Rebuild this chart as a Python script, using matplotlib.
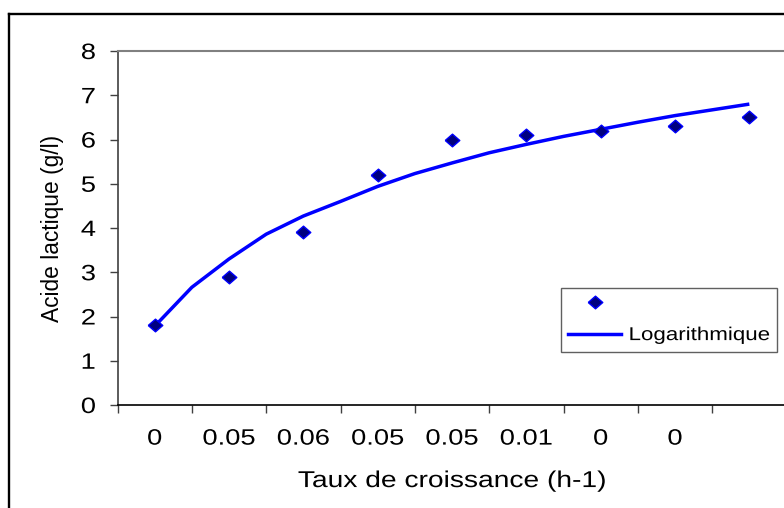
import matplotlib
matplotlib.use("Agg")
import matplotlib.pyplot as plt
from matplotlib.lines import Line2D
from matplotlib.patheffects import AbstractPathEffect
from matplotlib.transforms import Affine2D

plt.rcParams['font.family'] = ['Liberation Sans', 'DejaVu Sans']

# Data
categories = [1, 2, 3, 4, 5, 6, 7, 8, 9]
tick_labels = ["0", "0.05", "0.06", "0.05", "0.05", "0.01", "0", "0", ""]
acide = [1.8, 2.9, 3.9, 5.2, 6.0, 6.1, 6.2, 6.3, 6.5]
trend_x = [1, 1.5, 2, 2.5, 3, 3.5, 4, 4.5, 5, 5.5, 6, 6.5, 7, 7.5, 8, 8.5, 9]
trend_y = [1.78, 2.66, 3.30, 3.86, 4.27, 4.60, 4.94, 5.23, 5.47, 5.70, 5.89, 6.07, 6.23, 6.39, 6.54, 6.67, 6.80]


class Stretch(AbstractPathEffect):
    """Widen text glyphs horizontally (the reference uses wide lettering)."""
    def __init__(self, sx=1.23, anchor='center'):
        super().__init__()
        self.sx = sx
        self.anchor = anchor

    def draw_path(self, renderer, gc, tpath, affine, rgbFace=None):
        ext = tpath.get_extents()
        c = (ext.x0 + ext.x1) / 2 if self.anchor == 'center' else 0.0
        t = Affine2D().translate(-c, 0).scale(self.sx, 1).translate(c, 0)
        renderer.draw_path(gc, tpath, t + affine, rgbFace)


W, H = 784, 508
fig = plt.figure(figsize=(W / 100, H / 100), dpi=100)
ax = fig.add_axes([117.5 / W, (H - 405) / H, 669 / W, (405 - 51) / H])

diamond = [(-1.15, 0), (0, 1), (1.15, 0), (0, -1), (-1.15, 0)]

ax.plot(trend_x, trend_y, color='#0000FF', lw=2.5, solid_capstyle='butt', zorder=2)
ax.plot(categories, acide, linestyle='none', marker=diamond, markersize=10.5,
        markerfacecolor='#000080', markeredgecolor='#0000FF', markeredgewidth=1.0, zorder=3)

ax.set_xlim(0.5, 9.5)
ax.set_ylim(0, 8)
ax.set_yticks(range(0, 9))
ax.tick_params(axis='y', direction='out', length=6, width=1, colors='#404040',
               labelcolor='black', labelsize=16, pad=10.5)

# x: tick marks at category boundaries, labels at category centres
ax.set_xticks([c + 0.5 for c in [0] + categories])
ax.set_xticklabels([])
ax.set_xticks(categories, minor=True)
ax.set_xticklabels(tick_labels, minor=True)
ax.tick_params(axis='x', which='major', direction='out', length=6, width=1, colors='#404040')
ax.tick_params(axis='x', which='minor', length=0, labelsize=16, pad=17, labelcolor='black')

ax.spines['top'].set_color('#808080')
ax.spines['top'].set_linewidth(1.5)
ax.spines['right'].set_visible(False)
ax.spines['left'].set_color('#404040')
ax.spines['bottom'].set_color('black')
ax.spines['left'].set_linewidth(1.2)
ax.spines['bottom'].set_linewidth(1.2)

xl = ax.set_xlabel('Taux de croissance (h-1)', fontsize=16.5, labelpad=14)
ax.set_ylabel('Acide lactique (g/l)', fontsize=16.4, labelpad=13)
xl.set_path_effects([Stretch(1.23)])

h1 = Line2D([], [], linestyle='none', marker=diamond, markersize=10.5,
            markerfacecolor='#000080', markeredgecolor='#0000FF')
h2 = Line2D([], [], color='#0000FF', lw=2.5)
leg = ax.legend(handles=[h1, h2], labels=[' ', 'Logarithmique'], loc='upper left',
                bbox_to_anchor=(561 / W, 1 - 354.3 / H, 216 / W, 66.6 / H),
                bbox_transform=fig.transFigure, mode='expand',
                fontsize=13.4, frameon=True, fancybox=False, framealpha=1,
                edgecolor='#606060', handlelength=2.85, handletextpad=0.38,
                borderpad=0.4, labelspacing=0.8, borderaxespad=0)
leg.get_frame().set_linewidth(1.0)
for t in leg.get_texts():
    t.set_path_effects([Stretch(1.2, anchor='left')])

# outer chart frame (top and left edges visible)
fig.add_artist(Line2D([8.5 / W, 8.5 / W], [0, 1 - 14 / H], color='black', lw=1.7,
                      transform=fig.transFigure))
fig.add_artist(Line2D([8.5 / W, 1], [1 - 14 / H, 1 - 14 / H], color='black', lw=1.7,
                      transform=fig.transFigure))

fig.canvas.draw()
for lbl in ax.get_yticklabels() + ax.get_xticklabels(minor=True):
    lbl.set_path_effects([Stretch(1.23)])

fig.savefig('out.png', dpi=100)
